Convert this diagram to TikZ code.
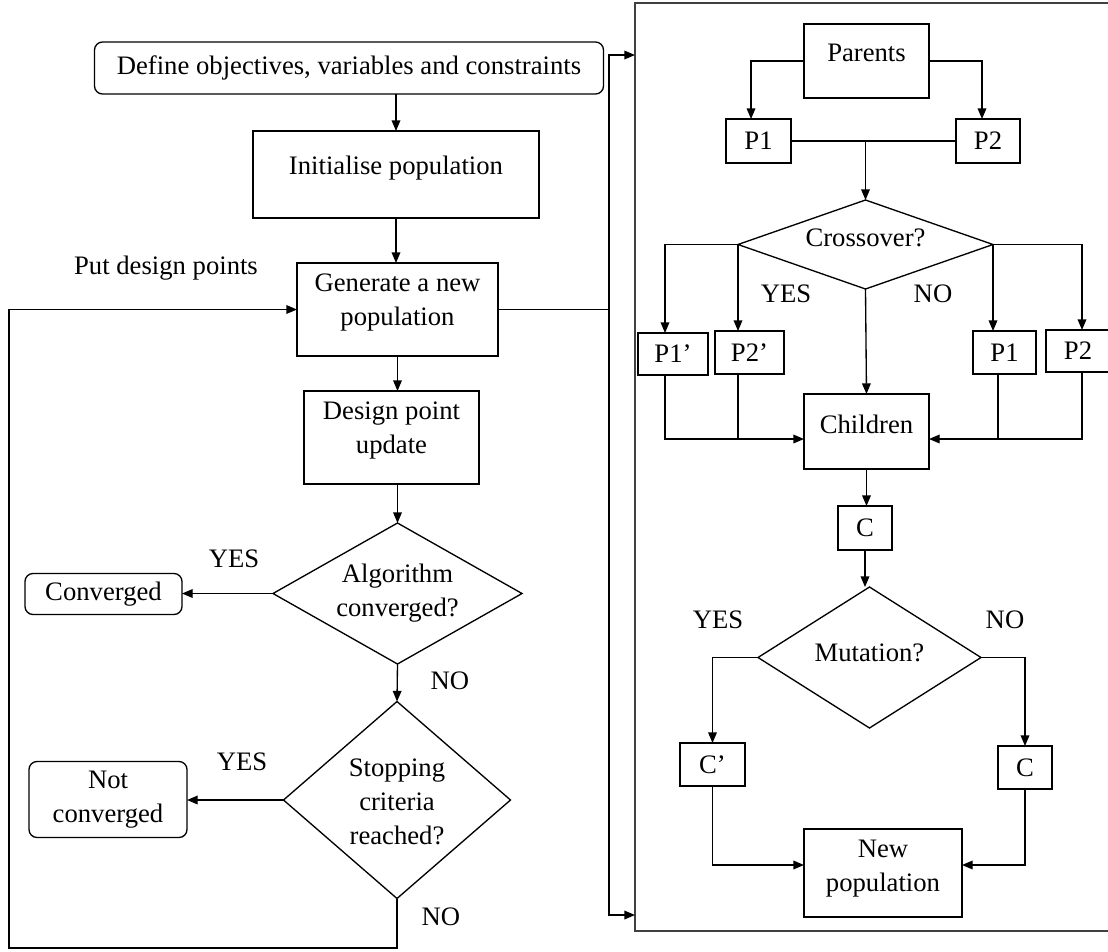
\documentclass[tikz,border=0pt]{standalone}
\usepackage{fontspec}
\setmainfont{Liberation Serif}
\usetikzlibrary{arrows.meta,shapes.geometric}
\begin{document}
\begin{tikzpicture}[x=0.75pt,y=-0.75pt,
  every node/.style={font=\fontsize{20pt}{25.5pt}\selectfont, inner sep=0pt, outer sep=0pt},
  sz/.style 2 args={minimum width=#1*0.75pt, minimum height=#2*0.75pt},
  box/.style={draw, line width=1pt, rectangle},
  rbox/.style={box, rounded corners=6pt},
  dia/.style={draw, line width=1pt, diamond, inner sep=0pt},
  lbl/.style={align=center},
  arr/.style={line width=1pt, -{Triangle[length=8pt,width=6.5pt]}},
  ln/.style={line width=1pt},
]
\useasboundingbox (0,0) rectangle (1108,951);

% right frame
\node[draw=black!75, line width=1pt, rectangle, sz={480}{928}] (frame) at (875,467) {};

% left column
\node[rbox, sz={509}{52}] (def) at (349,68) {Define objectives, variables and constraints};
\node[box, sz={286}{87}, label={[lbl,yshift=4.9pt]center:Initialise population}] (init) at (396,174.5) {};
\node[box, sz={201}{93}, label={[lbl,yshift=4.9pt]center:{Generate a new\\population}}] (gen) at (397.5,309.5) {};
\node[box, sz={175}{93}, label={[lbl,yshift=4.9pt]center:{Design point\\update}}] (dpu) at (391.5,437.5) {};
\node[dia, sz={249}{141}, label={[lbl]center:{Algorithm\\converged?}}] (alg) at (397.5,593.5) {};
\node[rbox, sz={157}{41}] (conv) at (103.5,594) {Converged};
\node[dia, sz={227}{197}, label={[lbl,yshift=-1.5pt]center:{Stopping\\criteria\\reached?}}] (stop) at (397,800) {};
\node[rbox, sz={158}{76}, lbl] (ncv) at (108,799.5) {Not\\converged};
\node (put) at (166,268) {Put design points};
\node (y1) at (234,559) {YES};
\node (n1) at (450,681) {NO};
\node (y2) at (242,762) {YES};
\node (n2) at (441,917) {NO};

% right column
\node[box, sz={125}{74}, label={[yshift=6pt]center:Parents}] (par) at (866.5,61) {};
\node[box, sz={65}{44}] (p1a) at (758.5,141) {P1};
\node[box, sz={64}{44}] (p2a) at (988,141) {P2};
\node[dia, sz={255}{89}, label={[yshift=4.9pt]center:Crossover?}] (cross) at (865.5,244.5) {};
\node[box, sz={70}{42}] (p1b) at (673,354) {P1’};
\node[box, sz={69}{43}] (p2b) at (749.5,352.5) {P2’};
\node[box, sz={63}{43}] (p1c) at (1004.5,352.5) {P1};
\node[box, sz={64}{42}] (p2c) at (1078,351) {P2};
\node (y3) at (786,294) {YES};
\node (n3) at (933,294) {NO};
\node[box, sz={125}{75}, label={[yshift=5.6pt]center:Children}] (chi) at (866.5,431.5) {};
\node[box, sz={54}{44}] (cb) at (865,528) {C};
\node[dia, sz={223}{141}, label={[yshift=3.75pt]center:Mutation?}] (mut) at (869.5,657.5) {};
\node (y4) at (718,620) {YES};
\node (n4) at (1005,620) {NO};
\node[box, sz={65}{43}] (cp) at (712.5,764.5) {C’};
\node[box, sz={54}{43}] (cr) at (1025,767.5) {C};
\node[box, sz={158}{88}, label={[lbl,yshift=3pt]center:{New\\population}}] (np) at (883,873) {};

% left connectors
\draw[arr] (def.south -| init.north) -- (init.north);
\draw[arr] (init.south) -- (init.south |- gen.north);
\draw[arr] (gen.south) -- (gen.south |- dpu.north);
\draw[arr] (dpu.south -| alg.north) -- (alg.north);
\draw[arr] (alg.west) -- (alg.west -| conv.east);
\draw[arr] (alg.south) -- (stop.north);
\draw[arr] (stop.west) -- (stop.west -| ncv.east);
\coordinate (lb) at (9,948);
\draw[arr] (stop.south) |- (lb) |- (gen.west);

% link to right frame
\coordinate (jt) at (609,55);
\coordinate (jb) at (609,915);
\draw[ln] (gen.east) -- (gen.east -| jt);
\draw[arr] (gen.east -| jt) -- (jt) -- (jt -| frame.west);
\draw[arr] (gen.east -| jt) -- (jb) -- (jb -| frame.west);

% right connectors
\draw[arr] (par.west) -| ([xshift=-5.6pt]p1a.north);
\draw[arr] (par.east) -| ([xshift=-4.5pt]p2a.north);
\draw[ln] (p1a.east) -- (p2a.west);
\draw[arr] (p1a.east -| cross.north) -- (cross.north);
\coordinate (xa) at (665,0);
\coordinate (xd) at (1082,0);
\coordinate (xe) at (998,0);
\draw[arr] (cross.west) -- (cross.west -| xa) -- (xa |- p1b.north);
\draw[arr] (cross.west) -- (cross.west |- p2b.north);
\draw[arr] (cross.east) -- (cross.east |- p1c.north);
\draw[arr] (cross.east) -- (cross.east -| xd) -- (xd |- p2c.north);
\draw[arr] (cross.south) -- (chi.north);
\coordinate (cl) at (0,439);
\draw[arr] (xa |- p1b.south) -- (xa |- cl) -- (cl -| chi.west);
\draw[ln] (cross.west |- p2b.south) -- (cross.west |- cl);
\draw[arr] (xd |- p2c.south) -- (xd |- cl) -- (cl -| chi.east);
\draw[ln] (xe |- p1c.south) -- (xe |- cl);
\draw[arr] (chi.south) -- (chi.south |- cb.north);
\draw[arr] (cb.south) -- (cb.south |- mut.north);
\draw[arr] (mut.west) -| (cp.north);
\draw[arr] (mut.east) -| (cr.north);
\coordinate (nl) at (0,865);
\draw[arr] (cp.south) -- (cp.south |- nl) -- (nl -| np.west);
\draw[arr] (cr.south) -- (cr.south |- nl) -- (nl -| np.east);
\end{tikzpicture}
\end{document}
